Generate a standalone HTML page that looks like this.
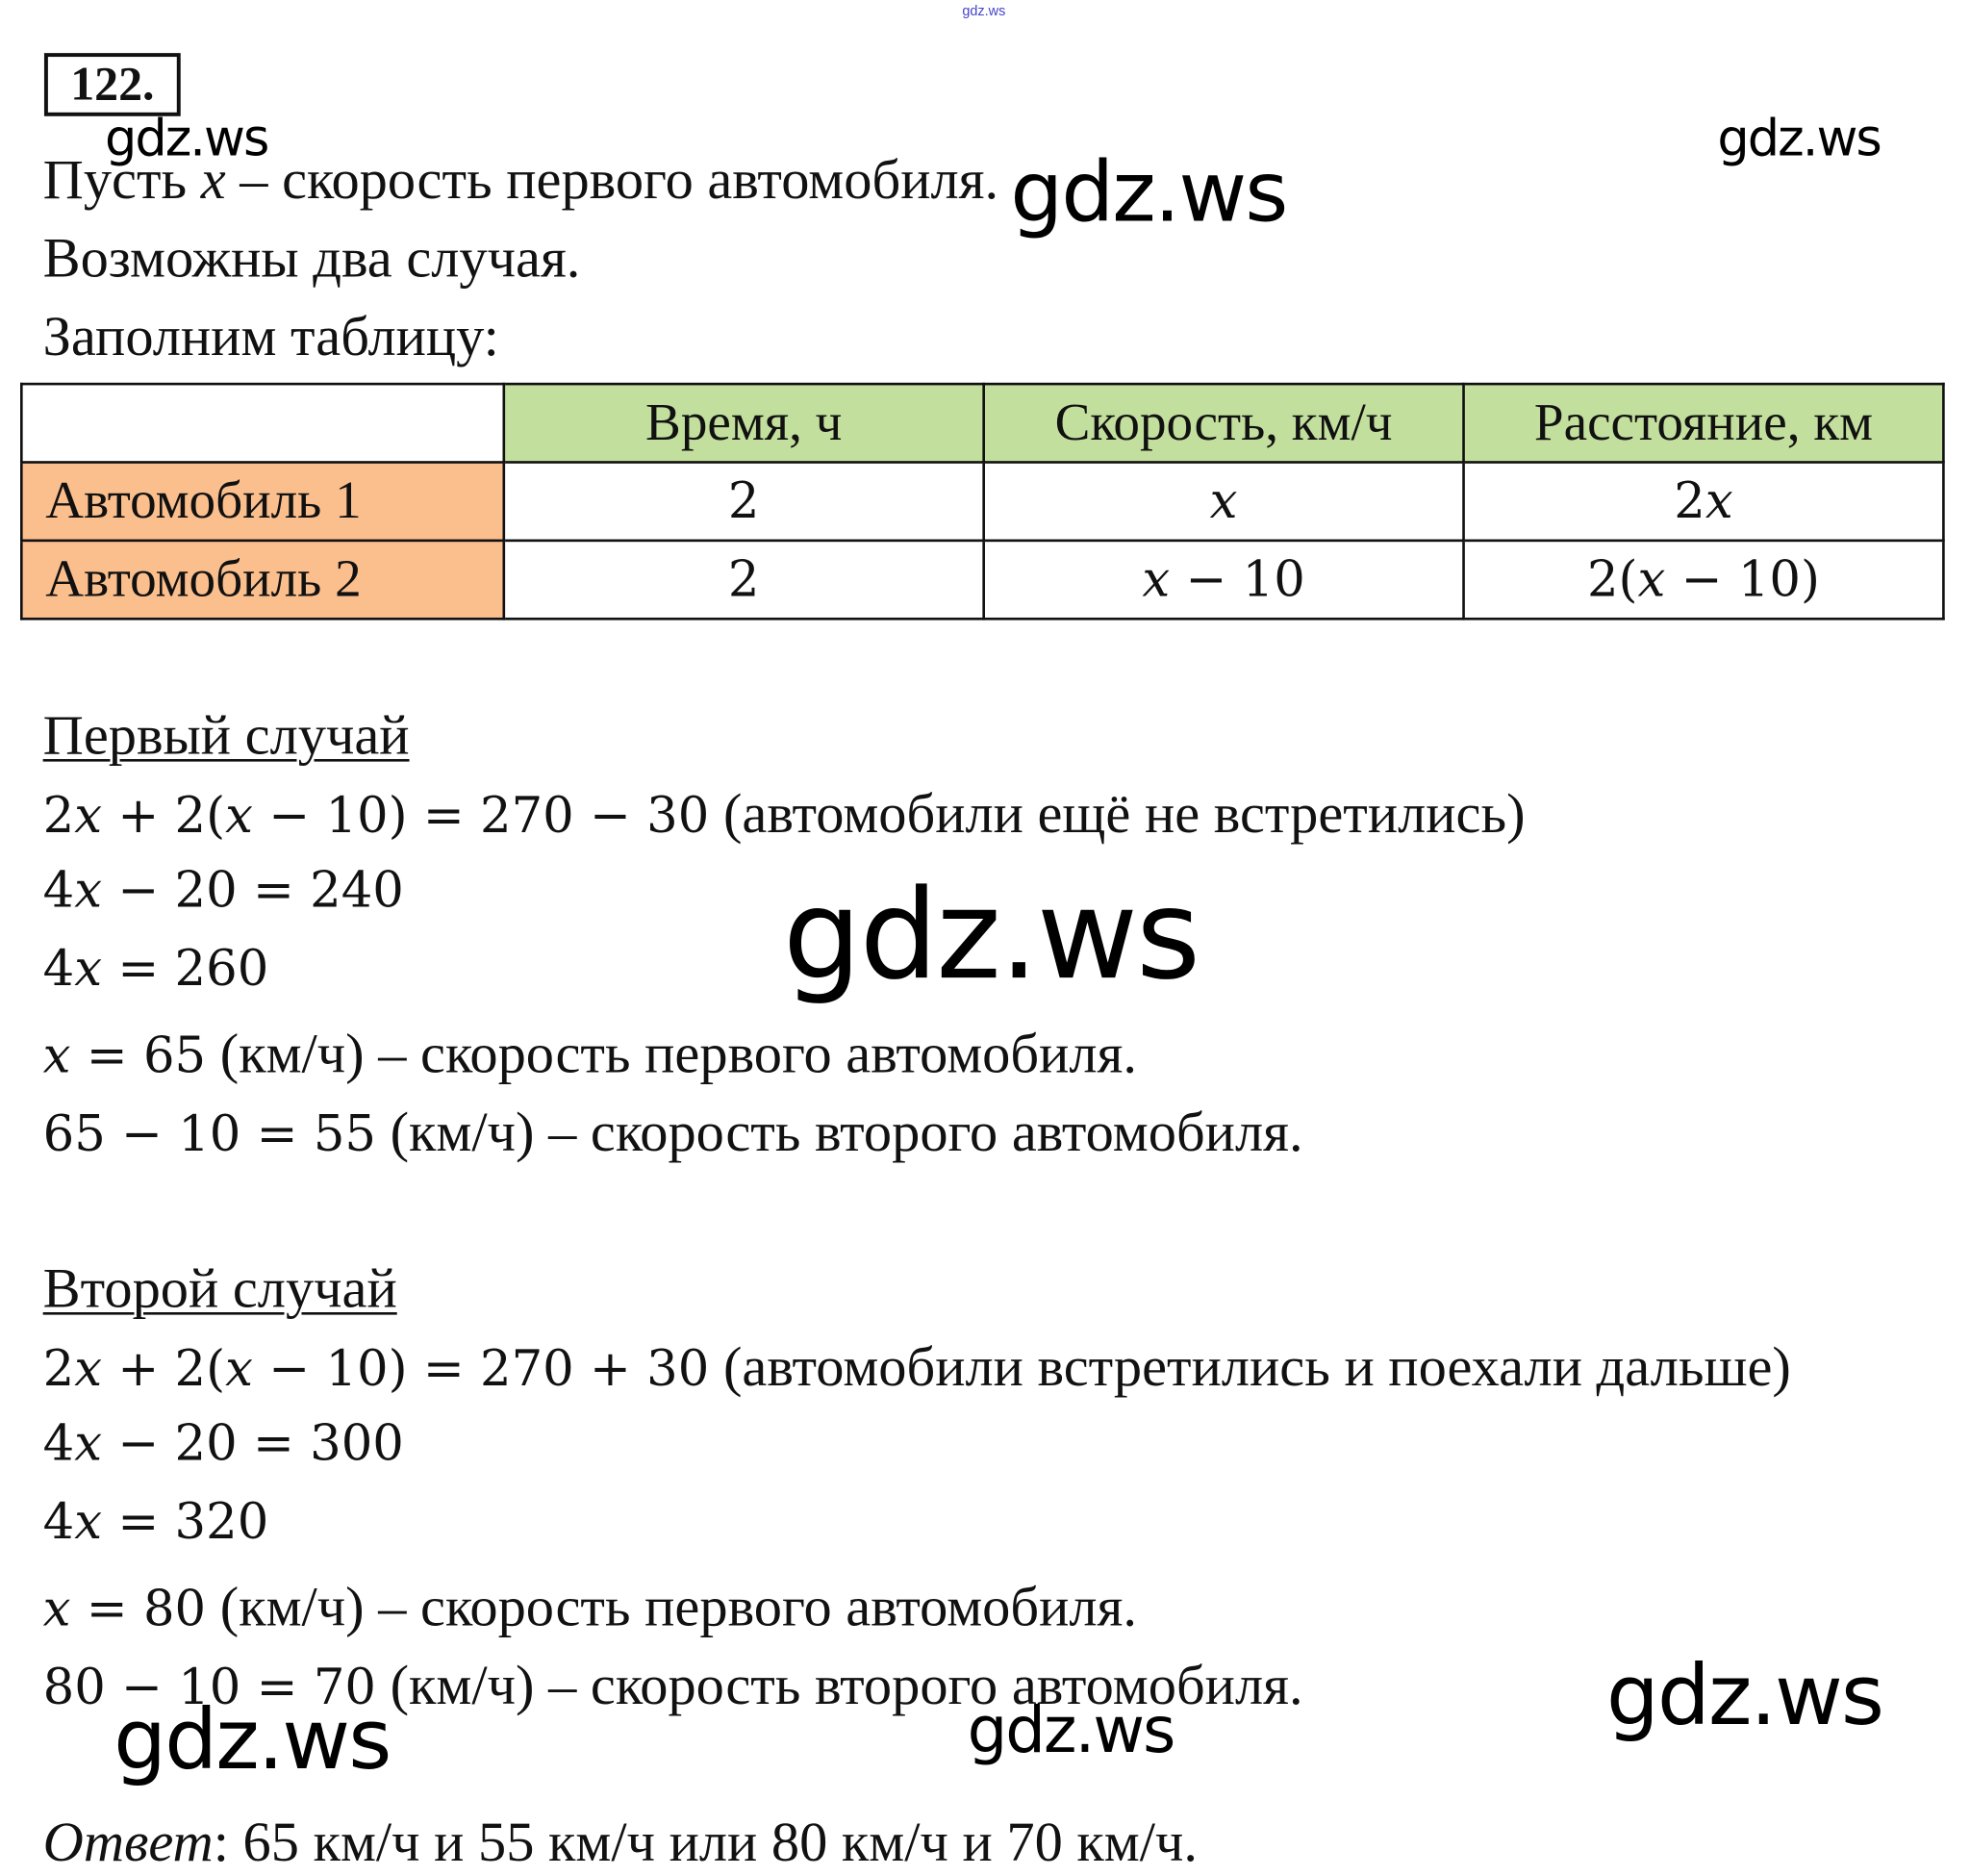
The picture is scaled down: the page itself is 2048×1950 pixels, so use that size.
<!DOCTYPE html>
<html><head><meta charset="utf-8"><style>
html,body{margin:0;padding:0;background:#fff;}
body{width:2048px;height:1950px;overflow:hidden;position:relative;}
#w{position:absolute;left:0;top:0;width:1560px;height:1485px;transform:scale(1.3128);transform-origin:0 0;font-family:"Liberation Serif","DejaVu Serif",serif;color:#111;}
.t{position:absolute;left:34px;font-size:44.5px;white-space:nowrap;line-height:1;}
.m{font-family:"DejaVu Serif","Liberation Serif",serif;font-size:39px;}
.wm{position:absolute;font-family:"DejaVu Sans","Liberation Sans",sans-serif;color:#000;white-space:nowrap;line-height:1;letter-spacing:-1.5px;}
table{position:absolute;left:16px;top:303px;border-collapse:collapse;}
td{border:2px solid #111;height:60px;width:378px;text-align:center;font-size:42px;padding:0;}
td.l{text-align:left;padding-left:18px;width:362px;background:#fbbf8e;}
.g{background:#c3df9d;}
u{text-decoration-thickness:2px;text-underline-offset:4px;}
i{font-style:italic;}
</style></head><body><div id="w">
<div style="position:absolute;left:762px;top:3px;font-size:11px;color:#44c;font-family:'Liberation Sans',sans-serif;">gdz.ws</div>
<div style="position:absolute;left:35px;top:42px;width:102px;height:44px;border:3px solid #111;font-weight:bold;font-size:38px;line-height:44px;text-align:center;">122.</div>
<div class="wm" style="left:83px;top:90px;font-size:40px;">gdz.ws</div>
<div class="wm" style="left:1360px;top:90px;font-size:40px;">gdz.ws</div>
<div class="t" style="top:120px;">Пусть <i>x</i> – скорость первого автомобиля.</div>
<div class="wm" style="left:800px;top:120px;font-size:66px;">gdz.ws</div>
<div class="t" style="top:182px;">Возможны два случая.</div>
<div class="t" style="top:244px;">Заполним таблицу:</div>
<table>
<tr><td style="width:380px"></td><td class="g">Время, ч</td><td class="g">Скорость, км/ч</td><td class="g">Расстояние, км</td></tr>
<tr><td class="l">Автомобиль 1</td><td class="m">2</td><td class="m"><i>x</i></td><td class="m">2<i>x</i></td></tr>
<tr><td class="l">Автомобиль 2</td><td class="m">2</td><td class="m"><i>x</i> − 10</td><td class="m">2(<i>x</i> − 10)</td></tr>
</table>
<div class="t" style="top:560px;"><u>Первый случай</u></div>
<div class="t" style="top:622px;"><span class="m">2<i>x</i> + 2(<i>x</i> − 10) = 270 − 30</span> (автомобили ещё не встретились)</div>
<div class="t m" style="top:686px;">4<i>x</i> − 20 = 240</div>
<div class="t m" style="top:748px;">4<i>x</i> = 260</div>
<div class="t" style="top:812px;"><span class="m"><i>x</i> = 65</span> (км/ч) – скорость первого автомобиля.</div>
<div class="t" style="top:874px;"><span class="m">65 − 10 = 55</span> (км/ч) – скорость второго автомобиля.</div>
<div class="wm" style="left:620px;top:692px;font-size:98px;">gdz.ws</div>
<div class="t" style="top:998px;"><u>Второй случай</u></div>
<div class="t" style="top:1060px;"><span class="m">2<i>x</i> + 2(<i>x</i> − 10) = 270 + 30</span> (автомобили встретились и поехали дальше)</div>
<div class="t m" style="top:1124px;">4<i>x</i> − 20 = 300</div>
<div class="t m" style="top:1186px;">4<i>x</i> = 320</div>
<div class="t" style="top:1250px;"><span class="m"><i>x</i> = 80</span> (км/ч) – скорость первого автомобиля.</div>
<div class="t" style="top:1312px;"><span class="m">80 − 10 = 70</span> (км/ч) – скорость второго автомобиля.</div>
<div class="wm" style="left:1272px;top:1310px;font-size:66px;">gdz.ws</div>
<div class="wm" style="left:90px;top:1345px;font-size:66px;">gdz.ws</div>
<div class="wm" style="left:766px;top:1345px;font-size:50px;">gdz.ws</div>
<div class="t" style="top:1436px;"><i>Ответ</i>: 65 км/ч и 55 км/ч или 80 км/ч и 70 км/ч.</div>
</div></body></html>
